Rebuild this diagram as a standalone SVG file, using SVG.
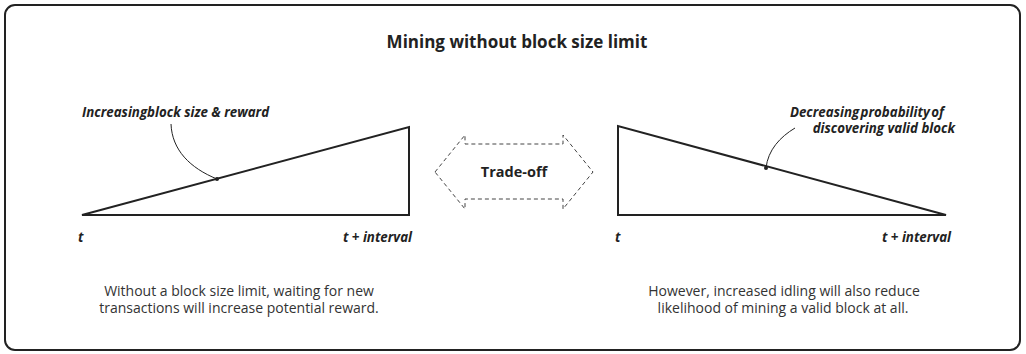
<svg xmlns="http://www.w3.org/2000/svg" width="1026" height="354" viewBox="0 0 1026 354">
<style>
text{font-family:"Open Sans","Liberation Sans",sans-serif;fill:#222}
.title{font-size:17px;font-weight:bold}
.lab{font-size:13.3px;font-weight:bold;font-style:italic}
.body{font-size:14px;fill:#333}
.tri{fill:none;stroke:#222;stroke-width:2;stroke-linejoin:miter}
.lead{fill:none;stroke:#222;stroke-width:1}
.dash{fill:none;stroke:#444;stroke-width:1;stroke-dasharray:4 3}
</style>
<rect x="5" y="5" width="1015" height="345" rx="10" ry="10" fill="#fff" stroke="#222" stroke-width="2"/>
<text class="title" x="517" y="48" text-anchor="middle">Mining without block size limit</text>
<g id="left-chart">
<polygon class="tri" points="82,215 409,215 409,127"/>
<text class="lab" x="82" y="117">Increasingblock size &amp; reward</text>
<text class="lab" x="78" y="242">t</text>
<text class="lab" x="412" y="242" text-anchor="end">t + interval</text>
</g>
<g id="right-chart">
<polygon class="tri" points="618,126 618,215 946,215"/>
<text class="lab" x="944" y="117" text-anchor="end" word-spacing="-2">Decreasing probability of</text>
<text class="lab" x="955" y="133" text-anchor="end">discovering valid block</text>
<text class="lab" x="615" y="242">t</text>
<text class="lab" x="951" y="242" text-anchor="end">t + interval</text>
</g>
<g id="tradeoff">
<polygon class="dash" points="435,172 465,135 465,144 563,144 563,135 593,172 563,209 563,199 465,199 465,209"/>
<text x="514" y="177" text-anchor="middle" style="font-size:14.5px;font-weight:bold">Trade-off</text>
</g>
<g id="left-caption">
<text class="body" x="239" y="296" text-anchor="middle">Without a block size limit, waiting for new</text>
<text class="body" x="239" y="313" text-anchor="middle">transactions will increase potential reward.</text>
</g>
<g id="right-caption">
<text class="body" x="784" y="296" text-anchor="middle">However, increased idling will also reduce</text>
<text class="body" x="783" y="313" text-anchor="middle">likelihood of mining a valid block at all.</text>
</g>
<g id="connectors">
<path class="lead" d="M171,124 C172,150 190,168 217,179"/>
<circle cx="217" cy="179" r="2" fill="#222"/>
<path class="lead" d="M795,128 C780,137 768,150 766,168"/>
<circle cx="766" cy="168" r="2" fill="#222"/>
</g>
</svg>
